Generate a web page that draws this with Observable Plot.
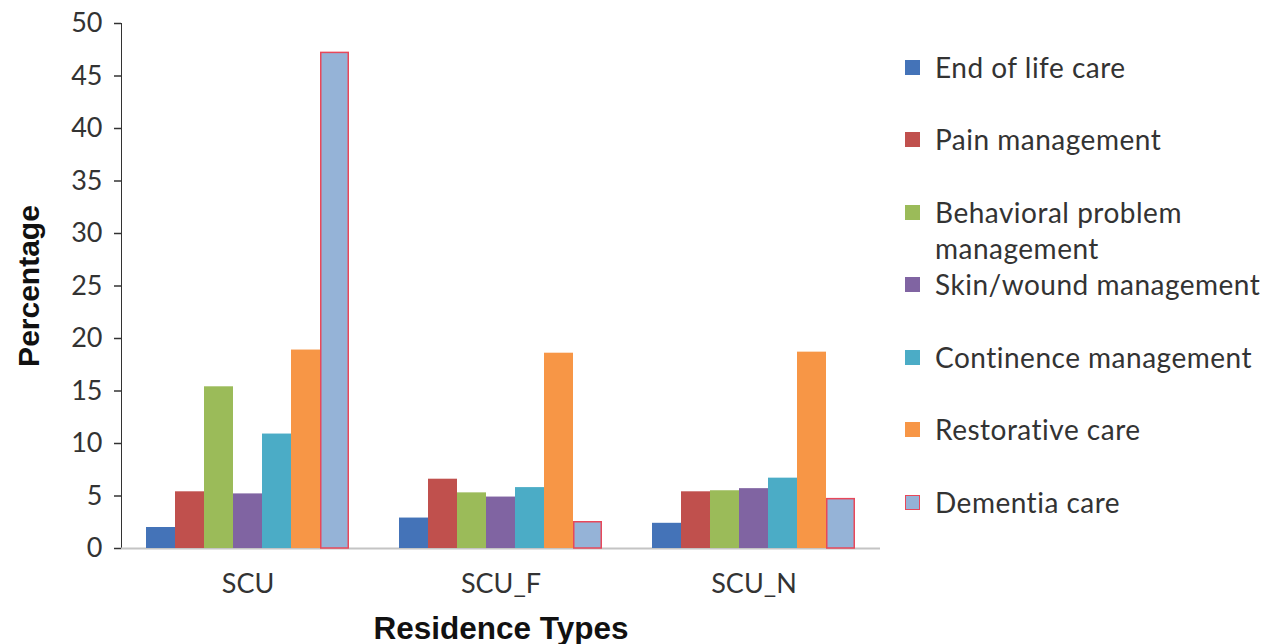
<!DOCTYPE html>
<html>
<head>
<meta charset="utf-8">
<script src="https://cdn.jsdelivr.net/npm/d3@7"></script>
<script src="https://cdn.jsdelivr.net/npm/@observablehq/plot@0.6"></script>
<style>
  html, body { margin: 0; padding: 0; background: #fff; }
  #wrap { position: relative; width: 1267px; height: 644px; font-family: Lato, "Open Sans", sans-serif; }
  #chart svg { display: block; }
  #chart text { fill: #333; }
  g[aria-label="y-axis label"] text,
  g[aria-label="fx-axis label"] text {
    font-family: "Liberation Sans", Arial, sans-serif;
    font-weight: bold;
    fill: #111 !important;
  }
  g[aria-label="y-axis label"] text { font-size: 30px; }
  g[aria-label="fx-axis label"] text { font-size: 31.5px; }
  #legend { position: absolute; left: 905px; top: 0; }
  .item { position: absolute; left: 0; width: 362px; font-size: 28px; letter-spacing: 0.5px; color: #333; line-height: 36px; }
  .sw { position: absolute; left: 0; top: 11px; width: 15px; height: 15px; box-sizing: border-box; }
  .lab { position: absolute; left: 30px; top: 0; width: 340px; white-space: pre; }
</style>
</head>
<body>
<div id="wrap">
  <div id="chart"></div>
  <div id="legend"></div>
</div>
<script>
// Residence types on the horizontal axis
const residences = ["SCU", "SCU_F", "SCU_N"];

// Care services, one bar per service within each residence type
const services = [
  "End of life care",
  "Pain management",
  "Behavioral problem management",
  "Skin/wound management",
  "Continence management",
  "Restorative care",
  "Dementia care"
];

// Percentage per service, in residence order SCU, SCU_F, SCU_N
const endOfLife   = [2.0, 2.9, 2.4];
const pain        = [5.4, 6.6, 5.4];
const behavioral  = [15.4, 5.3, 5.5];
const skinWound   = [5.2, 4.9, 5.7];
const continence  = [10.9, 5.8, 6.7];
const restorative = [18.9, 18.6, 18.7];
const dementia    = [47.2, 2.5, 4.7];

const yTicks = [0, 5, 10, 15, 20, 25, 30, 35, 40, 45, 50];

const colors = ["#4473b8", "#c0504d", "#9bbb59", "#8064a2", "#4bacc6", "#f79646", "#95b3d7"];
const dementiaStroke = "#e8485a";

const series = [endOfLife, pain, behavioral, skinWound, continence, restorative, dementia];
const rows = [];
residences.forEach((r, ri) => {
  services.forEach((s, si) => {
    rows.push({residence: r, service: s, value: series[si][ri]});
  });
});

const chart = Plot.plot({
  width: 880,
  height: 644,
  marginLeft: 120,
  marginRight: 0,
  marginTop: 23,
  marginBottom: 96,
  style: {fontFamily: "Lato, 'Open Sans', sans-serif", fontSize: "27px", color: "#333"},
  fx: {domain: residences, padding: 0, label: "Residence Types", labelAnchor: "center",
       tickSize: 0, tickPadding: 25, labelOffset: 90, axis: "bottom"},
  x: {domain: services, axis: null, paddingInner: 0, paddingOuter: 0.79},
  y: {domain: [0, 50], ticks: yTicks, tickSize: 7, tickPadding: 12,
      label: "Percentage", labelAnchor: "center", labelOffset: 104, line: true},
  color: {domain: services, range: colors},
  marks: [
    Plot.ruleY([0], {stroke: "#c4c4c4", strokeWidth: 2}),
    Plot.barY(rows, {fx: "residence", x: "service", y: "value", fill: "service", insetLeft: 0, insetRight: 0}),
    Plot.barY(rows.filter(d => d.service === "Dementia care"),
      {fx: "residence", x: "service", y: "value", fill: "none", stroke: dementiaStroke, strokeWidth: 1.5, insetLeft: 0.75, insetRight: 0.75})
  ]
});
document.getElementById("chart").appendChild(chart);

// Plain axis title without the direction arrow
chart.querySelectorAll('g[aria-label="y-axis label"] text').forEach(t => { t.textContent = "Percentage"; });

// Axis line and ticks in light gray
chart.querySelectorAll('g[aria-label="y-axis tick"], g[aria-label="y-axis line"]').forEach(g => {
  g.setAttribute("stroke", "#c4c4c4");
  g.setAttribute("stroke-width", "1.5");
});

// Legend on the right side
const legend = document.getElementById("legend");
const tops = [49, 121, 194, 266, 339, 411, 484];
services.forEach((s, i) => {
  const item = document.createElement("div");
  item.className = "item";
  item.style.top = tops[i] + "px";
  const sw = document.createElement("div");
  sw.className = "sw";
  sw.style.background = colors[i];
  if (s === "Dementia care") sw.style.border = "1.5px solid " + dementiaStroke;
  const lab = document.createElement("div");
  lab.className = "lab";
  lab.textContent = s === "Behavioral problem management" ? "Behavioral problem\nmanagement" : s;
  item.appendChild(sw);
  item.appendChild(lab);
  legend.appendChild(item);
});
</script>
</body>
</html>
